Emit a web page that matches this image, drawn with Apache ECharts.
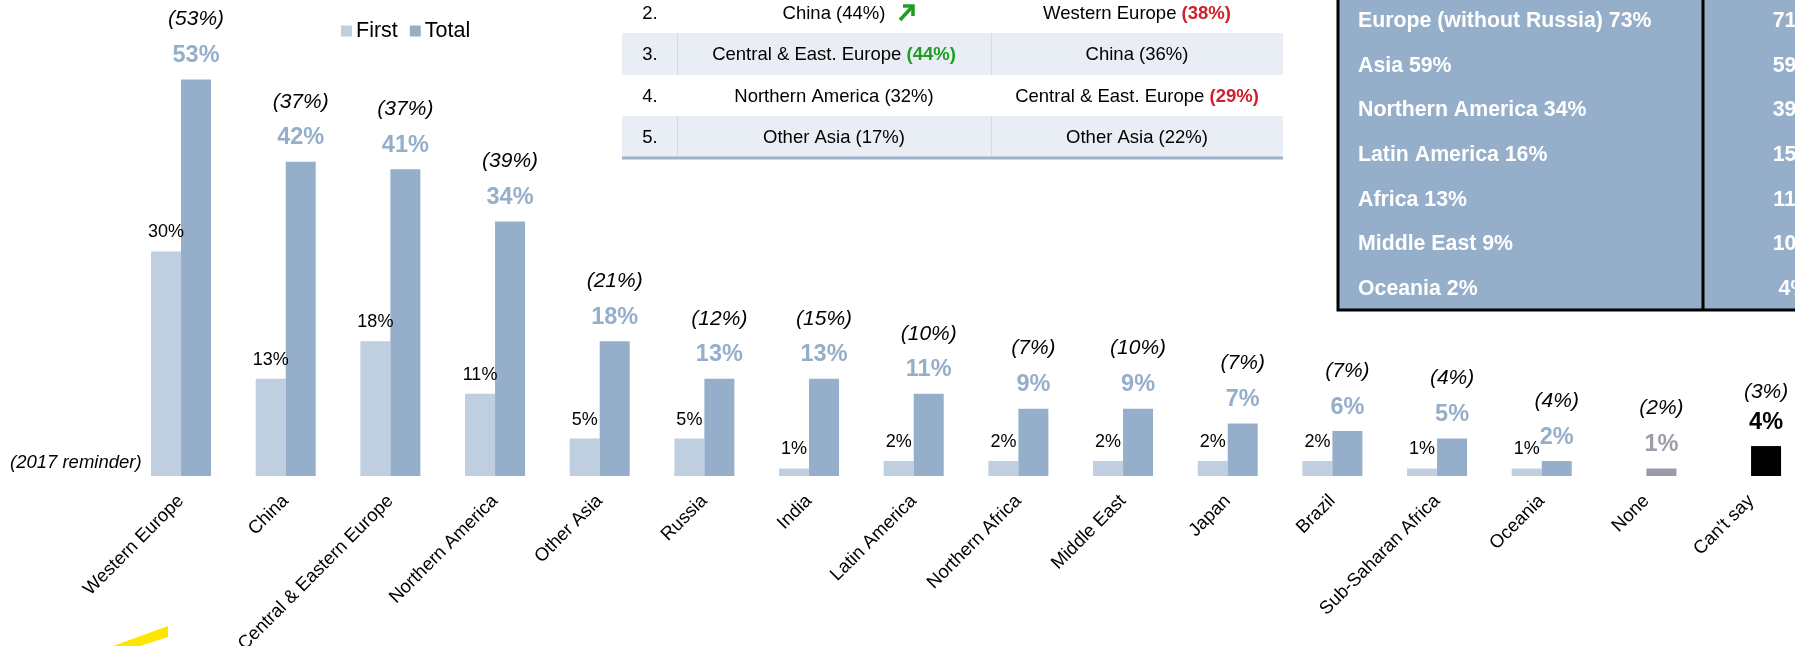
<!DOCTYPE html>
<html>
<head>
<meta charset="utf-8">
<script src="https://cdn.jsdelivr.net/npm/echarts@6/dist/echarts.min.js"></script>
<style>
  html, body { margin: 0; padding: 0; background: #fff; }
  #chart { width: 1795px; height: 646px; }
</style>
</head>
<body>
<div id="chart"></div>
<script>
// Destinations
const categories = ['Western Europe', 'China', 'Central & Eastern Europe', 'Northern America', 'Other Asia',
  'Russia', 'India', 'Latin America', 'Northern Africa', 'Middle East', 'Japan', 'Brazil',
  'Sub-Saharan Africa', 'Oceania', 'None', "Can't say"];
// First choice (%)
const firstValues = [30, 13, 18, 11, 5, 5, 1, 2, 2, 2, 2, 2, 1, 1, null, null];
// All choices (%), including "None" and "Can't say"
const totalValues = [53, 42, 41, 34, 18, 13, 13, 11, 9, 9, 7, 6, 5, 2, 1, 4];
// 2017 values shown in brackets (%)
const reminder2017 = [53, 37, 37, 39, 21, 12, 15, 10, 7, 10, 7, 7, 4, 4, 2, 3];

// Ranking table rows
const rankNumbers = ['2.', '3.', '4.', '5.'];
const rankCol1 = ['China (44%)', 'Central & East. Europe ', 'Northern America (32%)', 'Other Asia (17%)'];
const rankCol1Bold = ['', '(44%)', '', ''];
const rankCol2 = ['Western Europe ', 'China (36%)', 'Central & East. Europe ', 'Other Asia (22%)'];
const rankCol2Bold = ['(38%)', '', '(29%)', ''];

// Region summary box
const regionLeft = ['Europe (without Russia) 73%', 'Asia 59%', 'Northern America 34%', 'Latin America 16%',
  'Africa 13%', 'Middle East 9%', 'Oceania 2%'];
const regionRight = ['71%', '59%', '39%', '15%', '11%', '10%', '4%'];

const FONT = 'Liberation Sans, Arial, sans-serif';
const C_FIRST = '#BFCFE0';
const C_TOTAL = '#95AFCA';
const C_NONE = '#9E99A8';
const GREEN = '#1E9E24';
const RED = '#D0202A';
const TABLE_FS = 18.5;
const NONE_IDX = categories.indexOf('None');
const CANT_IDX = categories.indexOf("Can't say");

const chart = echarts.init(document.getElementById('chart'));

const graphics = [];

// ranking table bands and rules
[33, 116].forEach(function (y) {
  graphics.push({ type: 'rect', shape: { x: 622, y: y, width: 661, height: 42 }, style: { fill: '#E9EEF5' }, silent: true });
  [677, 991].forEach(function (x) {
    graphics.push({ type: 'line', shape: { x1: x + 0.5, y1: y, x2: x + 0.5, y2: y + 42 }, style: { stroke: '#D2DCE8', lineWidth: 1 } });
  });
});
graphics.push({ type: 'line', shape: { x1: 622, y1: 158, x2: 1283, y2: 158 }, style: { stroke: '#9DB2CC', lineWidth: 3 } });

const rowCenters = [14, 55, 97, 138];
rankNumbers.forEach(function (n, i) {
  const y = rowCenters[i];
  graphics.push({ type: 'text', x: 650, y: y, style: { text: n, fontFamily: FONT, fontSize: TABLE_FS, fill: '#000', align: 'center', verticalAlign: 'middle' } });
  const c1Key = i === 1 ? 'g' : 'n';
  graphics.push({ type: 'text', x: 834, y: y, style: {
    text: '{n|' + rankCol1[i] + '}' + (rankCol1Bold[i] ? '{' + c1Key + '|' + rankCol1Bold[i] + '}' : ''),
    align: 'center', verticalAlign: 'middle',
    rich: {
      n: { fontFamily: FONT, fontSize: TABLE_FS, fill: '#000' },
      g: { fontFamily: FONT, fontSize: TABLE_FS, fill: GREEN, fontWeight: 'bold' }
    }
  } });
  graphics.push({ type: 'text', x: 1137, y: y, style: {
    text: '{n|' + rankCol2[i] + '}' + (rankCol2Bold[i] ? '{r|' + rankCol2Bold[i] + '}' : ''),
    align: 'center', verticalAlign: 'middle',
    rich: {
      n: { fontFamily: FONT, fontSize: TABLE_FS, fill: '#000' },
      r: { fontFamily: FONT, fontSize: TABLE_FS, fill: RED, fontWeight: 'bold' }
    }
  } });
});
// rising arrow next to China
graphics.push({ type: 'polyline', shape: { points: [[903, 6], [913, 6], [913, 16]] }, style: { stroke: GREEN, lineWidth: 3.5, fill: null } });
graphics.push({ type: 'line', shape: { x1: 912, y1: 7, x2: 900, y2: 20 }, style: { stroke: GREEN, lineWidth: 3.5 } });

// region summary box
graphics.push({ type: 'rect', shape: { x: 1338, y: -10, width: 480, height: 320 }, style: { fill: C_TOTAL, stroke: '#000', lineWidth: 3 } });
graphics.push({ type: 'line', shape: { x1: 1703, y1: -10, x2: 1703, y2: 310 }, style: { stroke: '#000', lineWidth: 3 } });
regionLeft.forEach(function (t, i) {
  const y = 21 + i * 44.7;
  graphics.push({ type: 'text', x: 1358, y: y, style: { text: t, fontFamily: FONT, fontSize: 21.3, fontWeight: 'bold', fill: '#fff', align: 'left', verticalAlign: 'middle' } });
  graphics.push({ type: 'text', x: 1794, y: y, style: { text: regionRight[i], fontFamily: FONT, fontSize: 21.3, fontWeight: 'bold', fill: '#fff', align: 'center', verticalAlign: 'middle' } });
});

// reminder caption and corner logo sliver
graphics.push({ type: 'text', x: 10, y: 463, style: { text: '(2017 reminder)', fontFamily: FONT, fontSize: 18.5, fontStyle: 'italic', fill: '#000', align: 'left', verticalAlign: 'middle' } });
graphics.push({ type: 'polygon', shape: { points: [[113, 646], [168, 626], [168, 637], [140, 646]] }, style: { fill: '#FFE600' } });

// "None" and "Can't say" bars get their own colours
const totalData = totalValues.map(function (v, i) {
  if (i === NONE_IDX) return { value: v, itemStyle: { color: C_NONE } };
  if (i === CANT_IDX) return { value: v, itemStyle: { color: '#000' } };
  return v;
});

const option = {
  animation: false,
  backgroundColor: '#fff',
  textStyle: { fontFamily: FONT },
  legend: {
    data: ['First', 'Total'],
    left: 336, top: 15,
    icon: 'rect', itemWidth: 11, itemHeight: 11, itemGap: 12,
    textStyle: { fontSize: 21.5, color: '#000', fontFamily: FONT, padding: [0, 0, 0, -1] }
  },
  grid: { left: 128.7, top: 27, width: 1674.7, height: 449, containLabel: false, outerBoundsMode: 'none' },
  xAxis: {
    type: 'category', data: categories,
    axisLine: { show: false }, axisTick: { show: false },
    axisLabel: { interval: 0, rotate: 45, margin: 22, fontSize: 18.5, color: '#000', fontFamily: FONT }
  },
  yAxis: { type: 'value', min: 0, max: 60, show: false },
  series: [
    {
      name: 'First', type: 'bar', data: firstValues, barWidth: 30, barGap: '0%',
      itemStyle: { color: C_FIRST },
      label: { show: true, position: 'top', distance: 10, fontSize: 18, color: '#000', fontFamily: FONT,
        formatter: function (p) { return p.value + '%'; } }
    },
    {
      name: 'Total', type: 'bar', data: totalData, barWidth: 30, barGap: '0%',
      itemStyle: { color: C_TOTAL },
      label: {
        show: true, position: 'top', distance: 9,
        formatter: function (p) {
          const i = p.dataIndex;
          if (i === CANT_IDX) return '{a2|(' + reminder2017[i] + '%)}\n{k|' + p.value + '%}';
          const key = i === NONE_IDX ? 'g' : 'b';
          return '{a|(' + reminder2017[i] + '%)}\n{' + key + '|' + p.value + '%}';
        },
        rich: {
          a: { fontSize: 21, fontStyle: 'italic', color: '#000', fontFamily: FONT, lineHeight: 42 },
          a2: { fontSize: 21, fontStyle: 'italic', color: '#000', fontFamily: FONT, lineHeight: 30 },
          b: { fontSize: 23.5, fontWeight: 'bold', color: C_TOTAL, fontFamily: FONT, lineHeight: 30 },
          g: { fontSize: 23.5, fontWeight: 'bold', color: '#A09BAA', fontFamily: FONT, lineHeight: 30 },
          k: { fontSize: 23.5, fontWeight: 'bold', color: '#000', fontFamily: FONT, lineHeight: 30 }
        }
      }
    }
  ],
  graphic: graphics
};

chart.setOption(option);
</script>
</body>
</html>
